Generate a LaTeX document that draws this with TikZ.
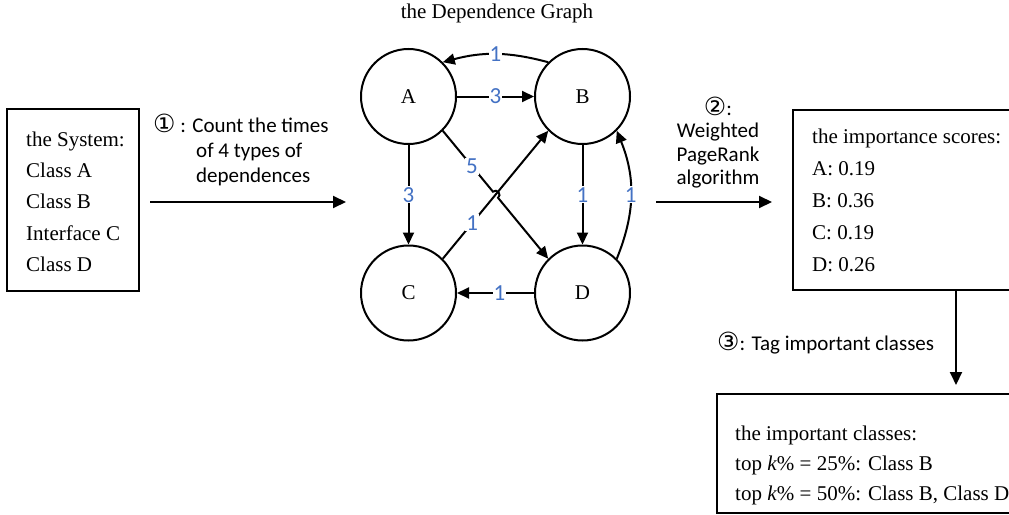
\documentclass[tikz,border=0pt]{standalone}
\usepackage{fontspec}
\setmainfont{Liberation Serif}
\newfontfamily\calfont{Carlito}
\newfontfamily\symfont{DejaVu Sans}
\usetikzlibrary{arrows.meta,calc}
\definecolor{lblue}{HTML}{4472C4}
\newcommand{\circnum}[1]{{\symfont\fontsize{25}{25}\selectfont #1}}
\begin{document}
\begin{tikzpicture}[x=1pt,y=1pt,
  serif/.style={font=\fontsize{21}{25}\selectfont, inner sep=0pt, anchor=base west},
  cal/.style={font=\calfont\fontsize{21}{25}\selectfont, inner sep=0pt, anchor=base west},
  calc/.style={font=\calfont\fontsize{21}{25}\selectfont, inner sep=0pt, anchor=base},
  vertex/.style={draw, circle, line width=2pt, minimum size=95pt, inner sep=0pt, font=\fontsize{21}{25}\selectfont},
  box/.style={draw, line width=2pt, inner sep=0pt},
  edge/.style={line width=2pt, -{Triangle[length=12pt,width=11pt]}},
  wlabel/.style={font=\calfont\fontsize{23}{25}\selectfont, text=lblue, fill=white, inner sep=1pt},
  bigarrow/.style={line width=2pt, -{Triangle[length=13pt,width=12pt]}},
]
\useasboundingbox (0,0) rectangle (1009,-514);
\clip (0,0) rectangle (1009,-514);

% title
\node[serif, anchor=base] (title) at (497,-19) {the Dependence Graph};

% graph vertices
\node[vertex] (A) at (408.5,-96.5) {A};
\node[vertex] (B) at (582.5,-96.5) {B};
\node[vertex] (C) at (408.5,-293) {C};
\node[vertex] (D) at (582.5,-293) {D};

% graph edges
\draw[edge] (B.135) to[bend right=15] node[wlabel]{1} (A.45);
\draw[edge] (A) -- node[wlabel]{3} (B);
\draw[edge] (A) -- node[wlabel]{3} (C);
\draw[edge] (C.45) -- node[wlabel,pos=0.28]{1} (B.-135);
\coordinate (X) at ($(A.-45)!0.5!(D.135)$);
\draw[edge] (A.-45) -- node[wlabel,pos=0.58]{5} ($(X)!4pt!(A.-45)$)
  arc[start angle=129.56,end angle=-50.44,radius=4pt] -- (D.135);
\draw[edge] (B) -- node[wlabel]{1} (D);
\draw[edge] (D.45) to[bend right=22] node[wlabel]{1} (B.-45);
\draw[edge] (D) -- node[wlabel,pos=0.45]{1} (C);

% system box
\node[box, minimum width=132pt, minimum height=182pt] (sys) at (73,-200) {};
\node[serif] (s1) at (26,-146) {the System:};
\node[serif] (s2) at (26,-177) {Class A};
\node[serif] (s3) at (26,-208) {Class B};
\node[serif] (s4) at (26,-240) {Interface C};
\node[serif] (s5) at (26,-271) {Class D};

% step 1
\coordinate (p1s) at (150,-202);
\coordinate (p1e) at (346,-202);
\draw[bigarrow] (p1s) -- (p1e);
\node[cal] (n1a) at (153,-132) {\circnum{①} : Count the times};
\node[cal] (n1b) at (196,-157) {of 4 types of};
\node[cal] (n1c) at (196,-182) {dependences};

% step 2
\coordinate (p2s) at (656,-202);
\coordinate (p2e) at (772,-202);
\draw[bigarrow] (p2s) -- (p2e);
\node[calc] (n2a) at (718,-115) {\circnum{②}:};
\node[calc] (n2b) at (718,-137) {Weighted};
\node[calc] (n2c) at (718,-161) {PageRank};
\node[calc] (n2d) at (718,-184) {algorithm};

% importance scores box
\node[box, minimum width=237pt, minimum height=180pt] (imp) at (911.5,-200) {};
\node[serif] (i1) at (812,-143) {the importance scores:};
\node[serif] (i2) at (812,-175) {A: 0.19};
\node[serif] (i3) at (812,-207) {B: 0.36};
\node[serif] (i4) at (812,-239) {C: 0.19};
\node[serif] (i5) at (812,-271) {D: 0.26};

% step 3
\coordinate (p3s) at (956,-290);
\coordinate (p3e) at (956,-385);
\draw[bigarrow] (p3s) -- (p3e);
\node[cal] (n3) at (717,-350) {\circnum{③}: Tag important classes};

% important classes box
\node[box, minimum width=313pt, minimum height=119pt] (res) at (873.5,-453.5) {};
\node[serif] (r1) at (735,-440) {the important classes:};
\node[serif] (r2) at (735,-470) {top \textit{k}\% = 25\%: Class B};
\node[serif] (r3) at (735,-500) {top \textit{k}\% = 50\%: Class B, Class D};
\end{tikzpicture}
\end{document}
